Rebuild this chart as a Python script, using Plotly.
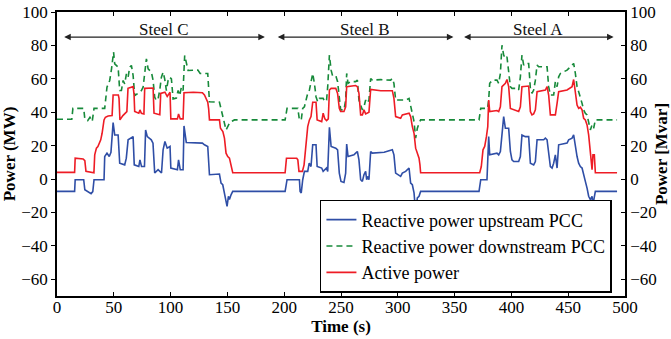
import plotly.graph_objects as go

# ---------------- data ----------------
t_active = [0, 15.5, 16, 23, 24.5, 25.5, 32.5, 33.2, 34.7, 36, 38.5, 39.7, 41.4, 42.6, 45, 48.5, 49.4, 54, 54.6, 55.4,
            58, 61.5, 62.5, 67, 67.8, 68.4, 72, 73, 74.3, 76.5, 77.2, 84.6, 85.4, 90.5, 91.3, 95, 97, 99.5, 100.2, 106,
            107, 108.5, 111, 111.8, 120, 128, 129.8, 132.7, 133.5, 134.2, 143, 143.9, 146, 147.4, 148.8, 150.3, 151.8,
            153.3, 154.7, 200.8, 202, 211, 212, 213, 216, 217.5, 219.3, 220.7, 222.2, 223.6, 225.1, 228, 229, 233,
            234.3, 235.8, 237.3, 238.8, 239.8, 241.3, 245.4, 247, 248.5, 249.7, 252.6, 254.1, 255, 262.9, 264.4, 265.8,
            267.3, 268.8, 270.2, 271.7, 274.6, 276.1, 285, 295.2, 296.6, 298.1, 302.5, 304, 309.9, 311.3, 312.8, 314.3,
            315.7, 317.2, 318.7, 319.5, 320.1, 372.1, 373.5, 375, 376.5, 378, 379.2, 380, 380.9, 387.3, 388.8, 390.3,
            391.7, 394.7, 396.1, 397.6, 399.1, 406.4, 407.9, 409.3, 415.2, 416.7, 418.1, 419.6, 421.1, 422.6, 429.9,
            431.4, 432.8, 434.3, 438.7, 440.2, 441.6, 449, 453.4, 454.8, 456.3, 457.8, 459.2, 460.7, 462.2, 463.6,
            465.1, 466.6, 468, 469.5, 471, 471.8, 473, 473.9, 493]
p_active = [4, 4, 12.5, 12, 11, 4.6, 3.8, 14.5, 18.5, 19.5, 23.5, 27.4, 35.4, 37, 37.8, 38, 50.3, 50.3, 48.3, 35.4,
            38, 40.4, 54.3, 55.3, 51, 40.4, 39.4, 41.4, 39.4, 39, 54.3, 54.5, 39.4, 38.5, 51.3, 52, 49.5, 52, 36, 36,
            39, 36, 36, 51.7, 52, 51.7, 50.3, 46, 42, 35.4, 35.4, 30.4, 28.4, 24.5, 15.5, 13.5, 12.5, 8.5, 3.8, 3.8,
            12.5, 12.5, 11.5, 4.6, 4.6, 8.5, 20, 31.4, 35.4, 37.4, 46, 46, 35.4, 34.4, 39.4, 36, 35, 36, 53.3, 54.3,
            54.3, 51.3, 42.3, 40.4, 40.4, 43.3, 55.3, 56, 55.3, 51.3, 38.4, 38.4, 41.4, 39, 40, 53.7, 52.9, 52.9, 48.3,
            37.4, 36.4, 38.4, 39.4, 37.4, 31.4, 27.4, 18.5, 15.5, 12.5, 8.5, 3.8, 3.8, 7.5, 17.5, 19.5, 25.4, 31.4,
            47.3, 40.4, 41, 40.4, 43.3, 55.3, 57.3, 59.6, 55.3, 42.3, 40.4, 43.3, 55.3, 55.7, 40.4, 38.4, 39, 41.4,
            52.3, 53.3, 55.3, 50.3, 38.4, 38.4, 45.3, 52.3, 53.3, 55.3, 59.6, 50.3, 44.3, 42.3, 43, 41.4, 36.4, 35.4,
            32.4, 26.4, 13.5, 5.6, 14.5, 14.5, 3.8, 3.8]

t_q_up = [0, 15.5, 16, 23.5, 24.5, 27, 30, 31.5, 32.6, 41.4, 42, 44, 46, 47.5, 49.4, 50.8, 53.8, 55.2, 59.6, 61, 62.6,
          67, 68, 72, 73, 74.4, 77, 78, 79.5, 83, 84.5, 86, 89, 92, 93.4, 95, 97, 99.5, 100.2, 106, 107, 108.5, 111,
          111.8, 113.8, 128, 129.8, 132.7, 134.2, 143, 144.4, 145.9, 147.4, 148.8, 149.7, 150.9, 151.8, 153.3, 154.7,
          200.8, 202.5, 213.4, 214, 215, 216.3, 217.8, 220.7, 222, 223.6, 225.1, 228, 229, 233, 234.3, 235.8, 237.3,
          238.3, 239.8, 241.3, 245.4, 247, 248.5, 250, 252.6, 254.1, 255, 256.2, 261.4, 262.9, 264.4, 265.8, 267.3,
          268.8, 270.2, 271.7, 272.6, 273.8, 274.6, 276.1, 277.6, 288, 295.2, 296.6, 298.1, 302.5, 304, 306.9, 309.9,
          311.3, 312.8, 314.3, 315.7, 317.2, 318.7, 320.1, 371.5, 373, 378.5, 380, 380.9, 387.3, 388.8, 390.3, 391.7,
          393.2, 394.7, 397.6, 399.1, 400.5, 402, 406.4, 407.9, 409.3, 412.2, 415.2, 416.7, 419.6, 421.1, 422.6, 428.4,
          429.9, 431.4, 432.8, 434.3, 435.8, 437.2, 438.7, 440.2, 441.6, 449, 450.4, 453.4, 454.8, 456.3, 457.8, 459.2,
          460.7, 462.2, 463.6, 465.1, 466.6, 468, 469.5, 471, 471.8, 473, 473.9, 493]
q_up = [-7.4, -7.4, -0.4, -0.4, -6.4, -7.4, -8.7, -7.5, -0.4, -0.4, 13.5, 15.5, 13.5, 16, 33.8, 26.4, 26.4, 9.5, 8.5,
        12.5, 23.5, 25.4, 8.5, 7.5, 11.5, 7.5, 7.5, 29.4, 25.4, 23.5, 21.5, 3.6, 5.6, 3.6, 17.5, 22.5, 18.5, 19.5, 6.6,
        5.6, 11.5, 5.6, 5.6, 31.8, 21.9, 21.5, 20.5, 19.5, 2.6, 3, -2.4, -3.4, -9.3, -14.3, -16.3, -10.3, -12.3, -9.3,
        -7.4, -7.4, -0.4, -0.4, -7.4, -8.3, -0.4, 4.6, 4.6, 9.5, 7.5, 20.5, 20.5, 7.5, 6.6, 4.6, 5.6, 6.6, 4.6, 31,
        19.5, 18.5, 17.5, 3.6, -1.4, -2, 3.6, 21, 13.5, 14.5, 15.5, 16.5, 11.5, -0.4, -1.4, 2.6, 4.6, -0.4, 1.6, -0.4,
        16.5, 15.5, 16, 17.5, 14.5, 3.6, 1.6, 3.6, 4.6, 6.6, -2.4, -3.4, -8.3, -20.3, -11.3, -10.3, -7.4, -7.4, -0.4,
        -0.4, 25.4, 14.5, 15.5, 14.5, 16.5, 29.4, 37.4, 30.4, 30.4, 16.5, 11.5, 10.5, 10.5, 13.5, 26.4, 25.4, 25.4,
        9.5, 8.5, 10.5, 23.5, 23.5, 24.5, 23.5, 15.5, 7.5, 6.6, 9.5, 14.5, 6.6, 20.5, 21.5, 23.5, 24.5, 26.4, 19.5,
        13.5, 9.5, 7.5, 6.6, 1.6, -1.4, -5.4, -10.3, -12.3, -10.3, -15.3, -10.3, -7.4, -7.4]

t_q_down = [0, 13, 14, 23.5, 24.5, 27, 29, 31, 32.6, 42, 44, 46.4, 48, 49.8, 50.8, 53.8, 55.2, 56.7, 58.2, 59.6, 61.1,
            62.6, 64, 65.5, 67, 68.4, 72.8, 74.3, 75.8, 77.2, 78.7, 80.2, 83.1, 84.6, 86, 87.5, 89, 90.4, 91.9, 93.4,
            94.8, 96.3, 97.8, 99.2, 100.7, 102.2, 105.1, 106.6, 108, 109.5, 111, 112.4, 113.9, 115.4, 124, 126, 132.7,
            134.2, 143, 144.4, 145.9, 147.4, 148.8, 150.3, 151.8, 153.3, 156.2, 200.8, 202.5, 212, 213.4, 215, 216.3,
            217.8, 219.3, 220.7, 222.2, 223.6, 225.1, 226.6, 228, 229.5, 231, 234.3, 235.8, 237.3, 238.3, 239.8, 241.3,
            242.8, 245.7, 247, 248.5, 249.7, 252.6, 254.1, 255, 256.2, 258.5, 262.9, 264.4, 265.8, 267.3, 268.8, 270.2,
            271.7, 273.2, 274.6, 276.1, 277.6, 285, 293.7, 295.2, 296.6, 298.1, 307, 309.9, 311.3, 312.8, 314.3, 315.7,
            317.2, 318.7, 320.1, 371.5, 373, 379, 380, 380.9, 382, 383.3, 387.3, 388.8, 390.3, 391.7, 393.2, 394.7,
            396.1, 397.6, 399.1, 400.5, 405, 406.4, 407.9, 409.3, 410.8, 412.2, 415.2, 416.7, 418.1, 419.6, 421.1,
            422.6, 424, 431.4, 432.8, 434.3, 437.2, 438.7, 440.2, 441.6, 443.1, 446, 449, 451.9, 454.8, 456.3, 457.8,
            459.2, 460.7, 462.2, 463.6, 465.1, 466.6, 468, 469.5, 471, 472.4, 473.9, 493]
q_down = [35.8, 35.8, 42.3, 42.3, 36, 35, 37, 34.5, 42.3, 42.3, 55, 59, 66, 76, 69, 67, 53, 53, 59, 57, 63, 61, 67, 68,
          62, 50, 52, 53, 55, 63, 72, 66, 64, 59, 49, 47, 48, 53, 61, 64, 60, 53, 59, 61, 60, 48, 48.5, 53, 50, 55, 53,
          74, 69, 65, 65.2, 63.2, 63.2, 46.3, 46, 42.3, 38.4, 33.4, 29.4, 31.4, 33.4, 34.4, 35.4, 35.4, 42.3, 42.3,
          35.4, 35.4, 42.3, 43.3, 47.3, 51.3, 53.3, 57.3, 63.2, 57.3, 49.3, 46.3, 48.3, 48.3, 46.3, 47.3, 55.3, 74.2,
          65.2, 61.2, 61.2, 58.3, 49.3, 41.4, 41.4, 47.3, 63.2, 57.3, 58.3, 58.3, 59.2, 47.3, 44.3, 41.4, 43.3, 47.3,
          45.5, 47.3, 60.2, 59.2, 59.5, 59.2, 60.2, 57.3, 47.3, 47.3, 48.3, 43.3, 39.4, 34.4, 24.5, 30.4, 33.4, 35.4,
          35.4, 42.3, 42.3, 47.3, 57.3, 58, 59.2, 59.2, 57.3, 63.2, 80.1, 74.2, 72.2, 73.2, 63.2, 55.3, 54.3, 54.3,
          53.3, 61.2, 74.2, 68.2, 69.2, 69.2, 54.3, 51.3, 53.3, 59.2, 68.2, 67.2, 67.2, 55.3, 50.3, 50.3, 58.3, 55.3,
          61.2, 63.2, 64.2, 65.2, 67.2, 69.2, 63.2, 55.3, 52.3, 49.3, 45.3, 41.4, 39.4, 38.4, 34.4, 29.4, 32.4, 30.4,
          35.4, 35.4]

steel_names = ["Steel C", "Steel B", "Steel A"]
steel_start = [5, 193, 357]
steel_end = [183, 349, 490]
arrow_level = 85
label_level = 89.5

x_ticks = [0, 50, 100, 150, 200, 250, 300, 350, 400, 450, 500]
y_ticks = [-60, -40, -20, 0, 20, 40, 60, 80, 100]

FONT = "Liberation Serif, Times New Roman, serif"
BLUE = "#2f4ea6"
GREEN = "#178a3a"
RED = "#ee1c25"

fig = go.Figure()
fig.add_trace(go.Scatter(x=t_q_up, y=q_up, mode="lines", name="Reactive power upstream PCC",
                         line=dict(color=BLUE, width=1.6)))
fig.add_trace(go.Scatter(x=t_q_down, y=q_down, mode="lines", name="Reactive power downstream PCC",
                         line=dict(color=GREEN, width=1.6, dash="6px,4px")))
fig.add_trace(go.Scatter(x=t_active, y=p_active, mode="lines", name="Active power",
                         line=dict(color=RED, width=1.6)))
# invisible trace to activate the right axis
fig.add_trace(go.Scatter(x=[0], y=[0], yaxis="y2", mode="lines", showlegend=False,
                         line=dict(width=0), hoverinfo="skip"))

for name, s, e in zip(steel_names, steel_start, steel_end):
    fig.add_annotation(x=e, y=arrow_level, ax=s, ay=arrow_level, xref="x", yref="y", axref="x", ayref="y",
                       text="", showarrow=True, arrowhead=2, arrowside="end+start", arrowsize=1.1,
                       arrowwidth=1.2, arrowcolor="#222")
    fig.add_annotation(x=(s + e) / 2, y=label_level, xref="x", yref="y", text=name, showarrow=False,
                       font=dict(family=FONT, size=17, color="#111"))

axis_common = dict(showgrid=False, zeroline=False, showline=True, linecolor="black", linewidth=1.6,
                   tickcolor="black", tickfont=dict(family=FONT, size=17, color="black"), ticklen=4,
                   automargin=False)
title_font = dict(family=FONT, size=17, color="black", weight="bold")

fig.update_layout(
    width=671, height=339,
    margin=dict(l=57, r=46, t=12, b=43),
    paper_bgcolor="white", plot_bgcolor="white",
    font=dict(family=FONT),
    xaxis=dict(range=[0, 500], tickvals=x_ticks, ticks="inside", mirror="ticks", ticklabelstandoff=-5,
               title=dict(text="Time (s)", font=title_font, standoff=0),
               **axis_common),
    yaxis=dict(range=[-70, 100], tickvals=y_ticks, ticks="outside", mirror=True,
               title=dict(text="Power (MW)", font=title_font, standoff=4),
               **axis_common),
    yaxis2=dict(range=[-70, 100], tickvals=y_ticks, ticks="inside", overlaying="y", side="right",
                title=dict(text="Power [Mvar]", font=title_font, standoff=4),
                **axis_common),
    legend=dict(x=0.977, y=0.011, xanchor="right", yanchor="bottom", bgcolor="white",
                bordercolor="black", borderwidth=1.5, font=dict(family=FONT, size=18, color="black"),
                tracegroupgap=0, itemwidth=30),
    showlegend=True,
)

fig.write_html("out.html")
